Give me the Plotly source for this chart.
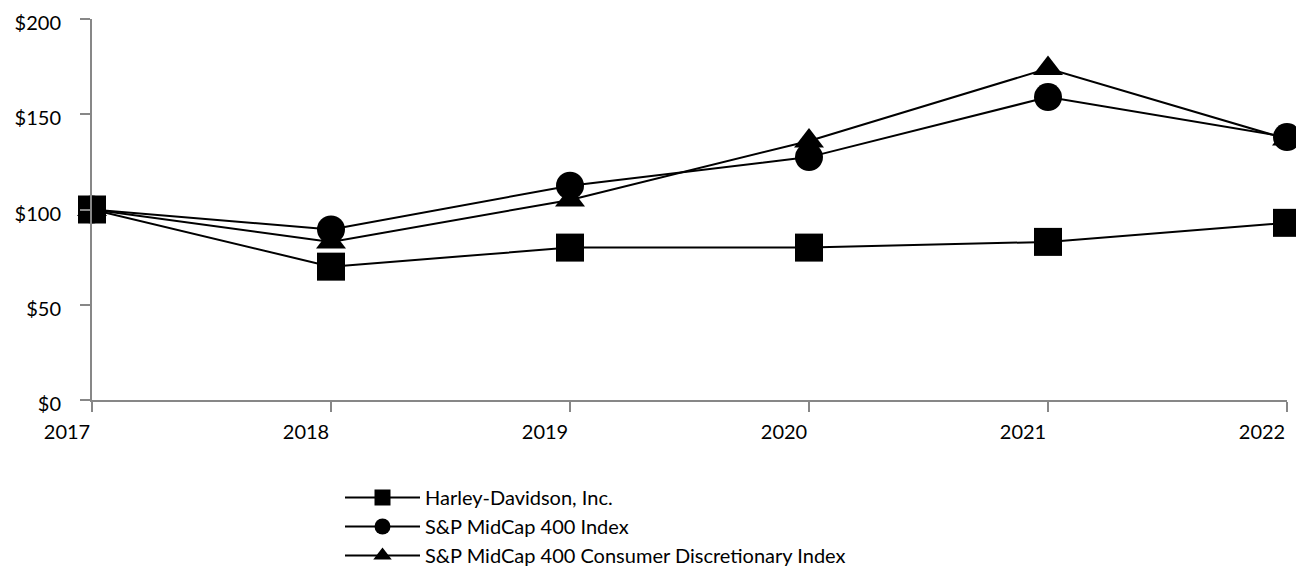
import plotly.graph_objects as go

years = [2017, 2018, 2019, 2020, 2021, 2022]
harley = [100, 70, 80, 80, 83, 93]
midcap = [100, 89.5, 112.5, 127.5, 159, 138]
consdisc = [100, 83, 105, 136, 174, 137]
names = ["Harley-Davidson, Inc.", "S&P MidCap 400 Index", "S&P MidCap 400 Consumer Discretionary Index"]
symbols = ["square", "circle", "triangle-up"]
sizes = [28, 28, 26]
series = [harley, midcap, consdisc]

fig = go.Figure()
for name, vals, sym, sz in zip(names, series, symbols, sizes):
    fig.add_trace(go.Scatter(
        x=years, y=vals, name=name, mode="lines+markers",
        line=dict(color="black", width=2),
        marker=dict(symbol=sym, size=sz, color="black"),
        cliponaxis=False,
    ))

axis_font = dict(family="Lato, 'Open Sans', sans-serif", size=20, color="black")
fig.update_layout(
    width=1296, height=573,
    margin=dict(l=92, r=9, t=19, b=173, autoexpand=False),
    paper_bgcolor="white", plot_bgcolor="white",
    font=axis_font,
    showlegend=True,
    legend=dict(
        x=340 / 1296, y=1 - 478 / 573, xref="container", yref="container",
        xanchor="left", yanchor="top",
        itemwidth=75, font=axis_font, tracegroupgap=0,
        bgcolor="rgba(0,0,0,0)",
    ),
    xaxis=dict(
        range=[2017, 2022], tickvals=years, ticktext=[str(y) for y in years],
        showgrid=False, zeroline=False, showline=True, linecolor="#878787", linewidth=2,
        ticks="outside", ticklen=10, tickwidth=2, tickcolor="#878787",
        tickfont=axis_font, ticklabelshift=-25, ticklabelstandoff=3,
        ticklabeloverflow="allow",
    ),
    yaxis=dict(
        range=[0, 200], tickvals=[0, 50, 100, 150, 200],
        ticktext=["$0", "$50", "$100", "$150", "$200"],
        showgrid=False, zeroline=False, showline=True, linecolor="#878787", linewidth=2,
        ticks="outside", ticklen=10, tickwidth=2, tickcolor="#878787",
        tickfont=axis_font, ticklabelstandoff=15, ticklabelshift=4,
        ticklabeloverflow="allow",
    ),
)
fig.write_html("out.html")
